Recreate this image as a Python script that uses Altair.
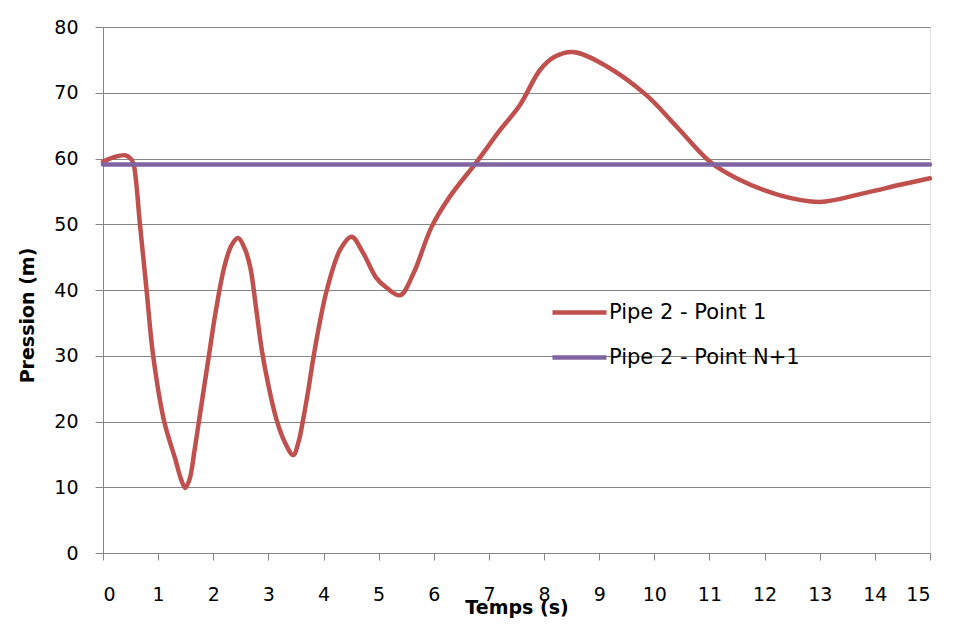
import altair as alt
import pandas as pd

t_point1 = [0, 0.2, 0.4, 0.5, 0.55, 0.67, 0.79, 0.91, 1.11, 1.31, 1.42, 1.49, 1.57, 1.66, 1.75,
            1.91, 2.05, 2.2, 2.33, 2.45, 2.56, 2.67, 2.78, 2.88, 3.0, 3.15, 3.3, 3.45, 3.55,
            3.63, 3.72, 3.81, 3.93, 4.06, 4.3, 4.51, 4.72, 4.96, 5.15, 5.39, 5.63, 5.96, 6.29,
            6.78, 7.2, 7.56, 7.93, 8.2, 8.53, 9.14, 9.86, 10.41, 11.01, 11.49, 12.28, 13.0,
            13.79, 14.46, 15.0]
p_point1 = [59.5, 60.2, 60.5, 60.0, 59.3, 50.0, 40.0, 30.0, 20.0, 14.3, 11.1, 9.9, 11.2, 15.6, 20.6,
            29.4, 37.0, 43.5, 46.8, 47.9, 46.5, 43.5, 37.0, 30.9, 25.5, 20.2, 16.8, 14.9, 17.0,
            20.3, 24.6, 29.4, 35.0, 40.0, 46.1, 48.1, 45.6, 41.8, 40.3, 39.2, 42.5, 49.6, 54.2,
            59.5, 64.3, 68.1, 73.5, 75.5, 76.2, 74.0, 69.6, 64.8, 59.5, 57.0, 54.4, 53.4,
            54.7, 56.0, 57.0]
t_pointN1 = [0, 15]
p_pointN1 = [59.1, 59.1]

series = ["Pipe 2 - Point 1", "Pipe 2 - Point N+1"]
colors = ["#C0504D", "#8064A2"]
x_ticks = list(range(0, 16))
y_ticks = list(range(0, 81, 10))

df = pd.concat([
    pd.DataFrame({"t": t_point1, "p": p_point1, "s": series[0], "o": range(len(t_point1))}),
    pd.DataFrame({"t": t_pointN1, "p": p_pointN1, "s": series[1], "o": range(len(t_pointN1))}),
])

FONT = "DejaVu Sans"

chart = alt.Chart(df).mark_line(strokeWidth=4.5, interpolate="catmull-rom", strokeCap="round").encode(
    x=alt.X("t:Q", title="Temps (s)",
            scale=alt.Scale(domain=[0, 15], nice=False, zero=False),
            axis=alt.Axis(values=x_ticks, grid=False, tickSize=7, labelPadding=25,
                          labelFontSize=19, titleFontSize=19, titleFontWeight="bold",
                          titleY=60, titleBaseline="alphabetic",
                          domainColor="#868686", tickColor="#868686", labelColor="#000000",
                          titleColor="#000000", labelFont=FONT, titleFont=FONT)),
    y=alt.Y("p:Q", title="Pression (m)",
            scale=alt.Scale(domain=[0, 80], nice=False),
            axis=alt.Axis(values=y_ticks, grid=True, gridColor="#868686", gridWidth=1,
                          tickSize=8, labelPadding=17, labelFontSize=19, titleFontSize=19,
                          titleFontWeight="bold", titleX=-70, titleY=288,
                          titleBaseline="alphabetic",
                          domainColor="#868686", tickColor="#868686", labelColor="#000000",
                          titleColor="#000000", labelFont=FONT, titleFont=FONT)),
    color=alt.Color("s:N", scale=alt.Scale(domain=series, range=colors),
                    legend=alt.Legend(title=None, orient="none", legendX=447, legendY=273,
                                      padding=0,
                                      symbolType="M-1,0H4.4", symbolSize=400,
                                      symbolStrokeWidth=4.5,
                                      labelFontSize=21, labelFont=FONT, labelColor="#000000",
                                      labelOffset=34, labelLimit=400, rowPadding=22)),
    order="o:Q",
).properties(
    width=827, height=526,
    autosize=alt.AutoSizeParams(type="none"),
    padding={"left": 103, "top": 27, "right": 32, "bottom": 71},
).configure_view(stroke=None).configure(background="white")

chart.save("out.html", embed_options={"renderer": "svg", "actions": False})
